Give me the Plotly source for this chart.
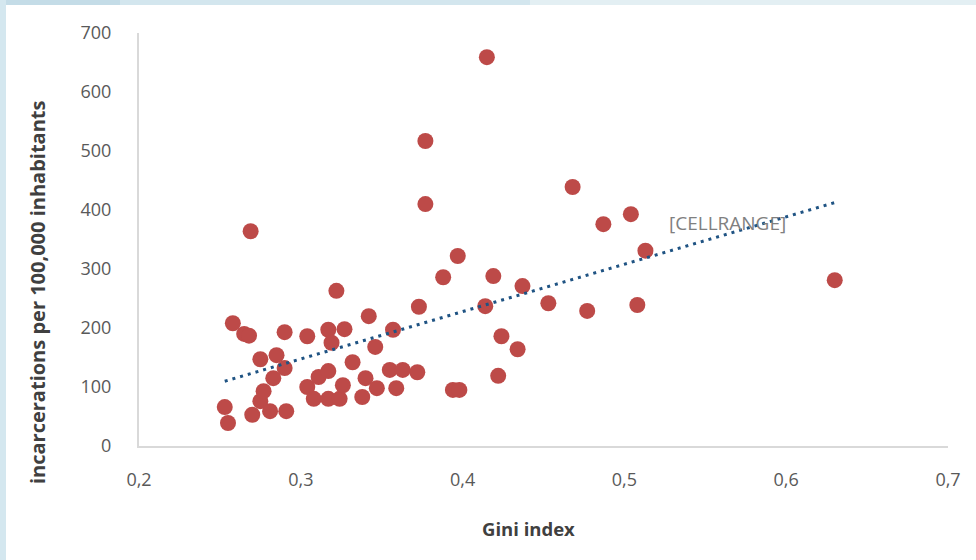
import numpy as np
import plotly.graph_objects as go

# Data
gini = [0.253, 0.255, 0.258, 0.265, 0.268, 0.269, 0.270, 0.275, 0.275, 0.277,
        0.281, 0.283, 0.285, 0.290, 0.290, 0.291, 0.304, 0.304, 0.308, 0.311,
        0.317, 0.317, 0.317, 0.319, 0.322, 0.324, 0.326, 0.327, 0.332, 0.338,
        0.340, 0.342, 0.346, 0.347, 0.355, 0.357, 0.359, 0.363, 0.372, 0.373,
        0.377, 0.377, 0.388, 0.394, 0.398, 0.397, 0.414, 0.415, 0.419, 0.422,
        0.424, 0.434, 0.437, 0.453, 0.468, 0.477, 0.487, 0.504, 0.508, 0.513,
        0.630]
incarceration = [66, 39, 208, 190, 187, 364, 53, 147, 76, 93,
                 59, 115, 154, 132, 193, 59, 186, 100, 80, 117,
                 197, 127, 80, 175, 263, 80, 103, 198, 142, 83,
                 115, 220, 168, 98, 129, 197, 98, 129, 125, 236,
                 410, 517, 286, 95, 95, 322, 237, 659, 288, 119,
                 186, 164, 271, 242, 439, 229, 376, 393, 239, 331,
                 281]
x_ticks = [0.2, 0.3, 0.4, 0.5, 0.6, 0.7]
x_tick_labels = ["0,2", "0,3", "0,4", "0,5", "0,6", "0,7"]
y_ticks = [0, 100, 200, 300, 400, 500, 600, 700]
x_title = "Gini index"
y_title = "incarcerations per 100,000 inhabitants"
label_text = "[CELLRANGE]"

# Linear trendline (least squares) spanning the data
slope, intercept = np.polyfit(gini, incarceration, 1)
trend_x = [min(gini), max(gini)]
trend_y = [slope * v + intercept for v in trend_x]

W, H = 976, 560
ML, MR, MT, MB = 139, 28, 33, 114
PW, PH = W - ML - MR, H - MT - MB


def px(xp):
    return (xp - ML) / PW


def py(yp):
    return (H - yp - MB) / PH


fig = go.Figure()
fig.add_trace(go.Scatter(
    x=gini, y=incarceration, mode="markers",
    marker=dict(size=16, color="#BD4A48", line=dict(width=0)),
    showlegend=False, hoverinfo="x+y"))
fig.add_trace(go.Scatter(
    x=trend_x, y=trend_y, mode="lines",
    line=dict(color="#1F5383", width=3, dash="3px,5px"),
    showlegend=False, hoverinfo="skip"))

shapes = [
    dict(type="rect", xref="paper", yref="paper", x0=px(0), x1=px(W), y0=py(5), y1=py(0),
         fillcolor="#d3e6ee", line=dict(width=0), layer="below"),
    dict(type="rect", xref="paper", yref="paper", x0=px(0), x1=px(120), y0=py(5), y1=py(0),
         fillcolor="#c4dce7", line=dict(width=0), layer="below"),
    dict(type="rect", xref="paper", yref="paper", x0=px(530), x1=px(W), y0=py(5), y1=py(0),
         fillcolor="#e3eff3", line=dict(width=0), layer="below"),
    dict(type="rect", xref="paper", yref="paper", x0=px(0), x1=px(6), y0=py(H), y1=py(0),
         fillcolor="#d4e7ef", line=dict(width=0), layer="below"),
]

annotations = [
    dict(text=label_text, xref="paper", yref="paper", x=px(667), y=py(223),
         xanchor="left", yanchor="middle", showarrow=False,
         font=dict(family="Open Sans", size=19, color="#808080")),
    dict(text=x_title, xref="paper", yref="paper", x=px(528), y=py(528),
         xanchor="center", yanchor="middle", showarrow=False,
         font=dict(family="Open Sans", size=18.5, color="#404040", weight="bold")),
    dict(text=y_title, xref="paper", yref="paper", x=px(37), y=py(293),
         xanchor="center", yanchor="middle", showarrow=False, textangle=-90,
         font=dict(family="Open Sans", size=20, color="#404040", weight="bold")),
]

fig.update_layout(
    width=W, height=H,
    margin=dict(l=ML, r=MR, t=MT, b=MB, autoexpand=False),
    paper_bgcolor="white", plot_bgcolor="white",
    shapes=shapes, annotations=annotations,
    font=dict(family="Open Sans", color="#595959"),
    xaxis=dict(range=[0.2, 0.7], tickvals=x_ticks, ticktext=x_tick_labels,
               showgrid=False, zeroline=False, showline=True, linecolor="#d9d9d9",
               linewidth=2, ticks="", ticklabelstandoff=16, automargin=False,
               tickfont=dict(family="Open Sans", size=18, color="#595959")),
    yaxis=dict(range=[0, 700], tickvals=y_ticks, showgrid=False, zeroline=False,
               showline=True, linecolor="#d9d9d9", linewidth=2, ticks="",
               ticklabelstandoff=22, automargin=False,
               tickfont=dict(family="Open Sans", size=18, color="#595959")),
)

fig.write_html("out.html")
